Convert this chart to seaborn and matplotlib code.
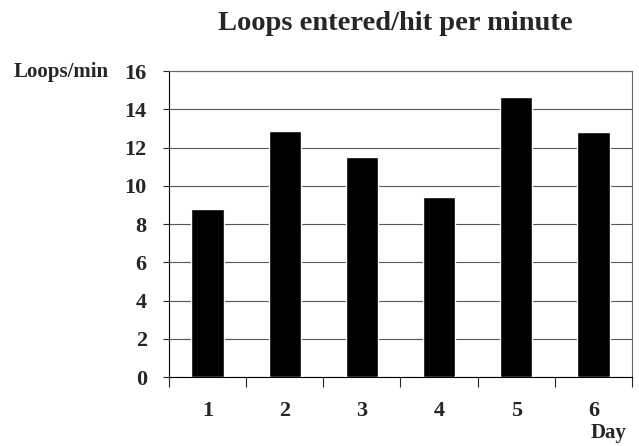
import pandas as pd
import seaborn as sns
import matplotlib.pyplot as plt
import numpy as np

sns.set_style("white")
plt.rcParams['font.family'] = ['Liberation Serif', 'DejaVu Serif']
plt.rcParams['font.weight'] = 'bold'

# values
days = ['1', '2', '3', '4', '5', '6']
loops_per_min = [8.8, 12.85, 11.5, 9.4, 14.65, 12.8]

df = pd.DataFrame({'Day': days, 'Loops': loops_per_min})

fig = plt.figure(figsize=(6.39, 4.46), dpi=100)
ax = fig.add_axes([0.2645, 0.1547, 0.7245, 0.6861])

sns.barplot(x='Day', y='Loops', data=df, color='black', width=0.42,
            saturation=1, ax=ax, zorder=3)

ax.set_ylim(0, 16)
ax.set_xlim(-0.5, 5.5)
ax.set_yticks(np.arange(0, 17, 2))
ax.yaxis.grid(True, color='#555555', linewidth=0.8, zorder=0)

for s in ax.spines.values():
    s.set_color('#666666')
    s.set_linewidth(0.8)
ax.spines['left'].set_color('black')
ax.spines['bottom'].set_color('black')

# category boundary ticks, Excel style
ax.set_xticks(np.arange(-0.5, 6, 1), minor=True)
ax.tick_params(axis='x', which='minor', length=7, width=0.8, direction='out', bottom=True)
ax.tick_params(axis='x', which='major', length=0, pad=17, labelsize=16)
ax.tick_params(axis='y', which='major', length=4, width=0.8, direction='out', left=True, pad=12, labelsize=16)
for lab in ax.get_xticklabels() + ax.get_yticklabels():
    lab.set_fontweight('bold')

ax.set_xlabel('')
ax.set_ylabel('')
fig.text(0.618, 0.947, 'Loops entered/hit per minute', ha='center', va='center',
         fontsize=20.5, fontweight='bold')
fig.text(0.095, 0.839, 'Loops/min', ha='center', va='center', fontsize=15, fontweight='bold')
fig.text(0.952, 0.03, 'Day', ha='center', va='center', fontsize=15, fontweight='bold')

fig.savefig('out.png', dpi=100)
